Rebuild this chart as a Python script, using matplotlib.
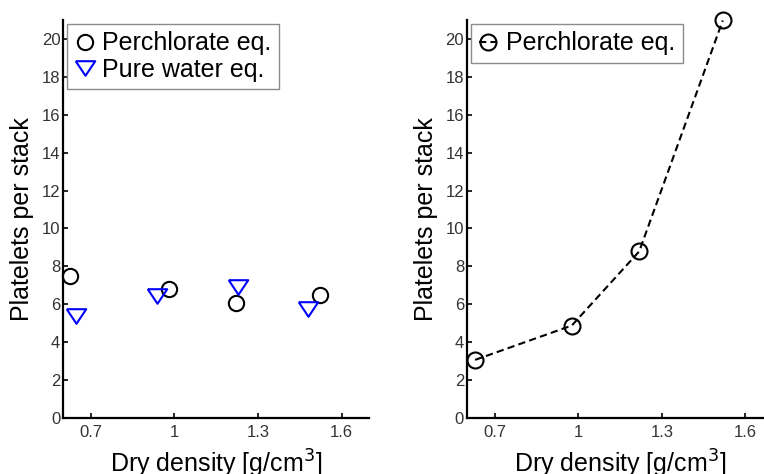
import matplotlib
matplotlib.use("Agg")
import matplotlib.pyplot as plt

plt.rcParams['font.family'] = ['Liberation Sans', 'DejaVu Sans']

# left panel data
perc_x = [0.625, 0.979, 1.221, 1.522]
perc_y = [7.5, 6.8, 6.07, 6.49]
water_x = [0.647, 0.937, 1.228, 1.479]
water_y = [5.4, 6.46, 6.92, 5.75]

# right panel data
perc2_x = [0.630, 0.977, 1.219, 1.519]
perc2_y = [3.07, 4.88, 8.79, 20.97]

xticks = [0.7, 1.0, 1.3, 1.6]
xticklabels = ['0.7', '1', '1.3', '1.6']
yticks = list(range(0, 21, 2))

tri = [(-1, 0.75), (1, 0.75), (0, -0.75), (-1, 0.75)]

fig = plt.figure(figsize=(7.64, 4.74), dpi=100)
ax1 = fig.add_axes([0.0825, 0.118, 0.401, 0.840])
ax2 = fig.add_axes([0.611, 0.118, 0.401, 0.840])


def style(ax):
    ax.set_xlim(0.6, 1.7)
    ax.set_ylim(0, 21)
    ax.set_xticks(xticks)
    ax.set_xticklabels(xticklabels)
    ax.set_yticks(yticks)
    for s in ('top', 'right'):
        ax.spines[s].set_visible(False)
    for s in ('left', 'bottom'):
        ax.spines[s].set_linewidth(1.6)
    ax.tick_params(direction='in', length=3.5, width=1.2, labelsize=12,
                   labelcolor='#333333')
    ax.tick_params(axis='x', pad=5)
    ax.tick_params(axis='y', pad=2)
    ax.set_ylabel('Platelets per stack', fontsize=18)
    ax.yaxis.set_label_coords(-0.095, 0.5)
    ax.set_xlabel(r'Dry density [g/cm$^3$]', fontsize=18)
    ax.xaxis.set_label_coords(0.5, -0.075)


ax1.plot(perc_x, perc_y, linestyle='none', marker='o', markersize=11,
         markerfacecolor='none', markeredgecolor='black', markeredgewidth=1.5,
         label='Perchlorate eq.', clip_on=False)
ax1.plot(water_x, water_y, linestyle='none', marker=tri, markersize=14,
         markerfacecolor='none', markeredgecolor='#0000ff', markeredgewidth=1.5,
         label='Pure water eq.', clip_on=False)
style(ax1)
leg = ax1.legend(loc='upper left', bbox_to_anchor=(0.013, 0.99), borderaxespad=0,
                 fontsize=18, fancybox=False, handlelength=0.8, handletextpad=0.3,
                 borderpad=0.3, labelspacing=0.1, framealpha=1)
leg.get_frame().set_edgecolor('0.55')
leg.get_frame().set_linewidth(1.0)

ax2.plot(perc2_x, perc2_y, color='black', linestyle='--', linewidth=1.5,
         dashes=(3.5, 2), marker='o', markersize=11.5, markerfacecolor='none',
         markeredgecolor='black', markeredgewidth=1.5, label='Perchlorate eq.',
         clip_on=False)
style(ax2)
leg2 = ax2.legend(loc='upper left', bbox_to_anchor=(0.014, 0.99), borderaxespad=0,
                  fontsize=18, fancybox=False, handlelength=0.75, handletextpad=0.35,
                  borderpad=0.3, framealpha=1)
leg2.get_frame().set_edgecolor('0.55')
leg2.get_frame().set_linewidth(1.0)

fig.savefig('out.png', dpi=100)
